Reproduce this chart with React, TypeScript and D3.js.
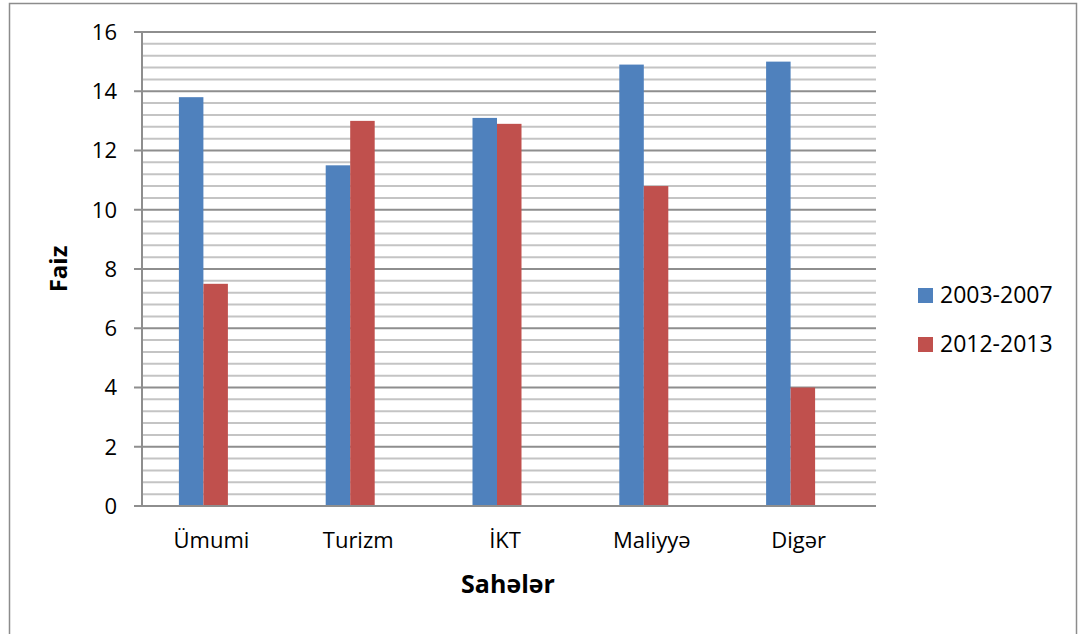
import { useEffect, useRef } from "react";
import * as d3 from "d3";

const categories = ["Ümumi", "Turizm", "İKT", "Maliyyə", "Digər"];
const seriesNames = ["2003-2007", "2012-2013"];
const values2003 = [13.8, 11.5, 13.1, 14.9, 15.0];
const values2012 = [7.5, 13.0, 12.9, 10.8, 4.0];
const colors = ["#4f81bd", "#c0504d"];
const yMajorTicks = [0, 2, 4, 6, 8, 10, 12, 14, 16];

const FONT = "'Open Sans', 'DejaVu Sans', sans-serif";

export default function App() {
  const svgRef = useRef<SVGSVGElement | null>(null);

  useEffect(() => {
    const width = 1083;
    const height = 634;
    const svg = d3.select(svgRef.current).attr("width", width).attr("height", height);
    svg.selectAll("*").remove();

    // outer frame
    svg
      .append("rect")
      .attr("x", 9.5)
      .attr("y", 3.5)
      .attr("width", 1067)
      .attr("height", 660)
      .attr("fill", "#fff")
      .attr("stroke", "#8c8c8c")
      .attr("stroke-width", 1.5);

    const plot = { left: 142, right: 876, top: 32, bottom: 506 };

    const y = d3.scaleLinear().domain([0, 16]).range([plot.bottom, plot.top]);

    // category band for labels; bars sit a little left of centre as in the original
    const x = d3
      .scaleBand<string>()
      .domain(categories)
      .range([plot.left, plot.right])
      .paddingInner(0)
      .paddingOuter(0);
    const barShift = -12;
    const groupWidth = 49;
    const xSub = d3.scaleBand<string>().domain(seriesNames).range([0, groupWidth]);

    // minor gridlines
    const minor = d3.range(0, 16.001, 0.4).filter((v) => Math.abs(v / 2 - Math.round(v / 2)) > 1e-6);
    svg
      .append("g")
      .selectAll("line")
      .data(minor)
      .enter()
      .append("line")
      .attr("x1", plot.left)
      .attr("x2", plot.right)
      .attr("y1", (d) => y(d))
      .attr("y2", (d) => y(d))
      .attr("stroke", "#c4c4c4")
      .attr("stroke-width", 2);

    // major gridlines + ticks
    svg
      .append("g")
      .selectAll("line")
      .data(yMajorTicks)
      .enter()
      .append("line")
      .attr("x1", plot.left - 8)
      .attr("x2", plot.right)
      .attr("y1", (d) => y(d))
      .attr("y2", (d) => y(d))
      .attr("stroke", "#8e8e8e")
      .attr("stroke-width", 2);

    // y axis line
    svg
      .append("line")
      .attr("x1", plot.left)
      .attr("x2", plot.left)
      .attr("y1", plot.top)
      .attr("y2", plot.bottom)
      .attr("stroke", "#8e8e8e")
      .attr("stroke-width", 2);

    // y tick labels
    svg
      .append("g")
      .selectAll("text")
      .data(yMajorTicks)
      .enter()
      .append("text")
      .attr("x", 117)
      .attr("y", (d) => y(d))
      .attr("dy", "0.36em")
      .attr("text-anchor", "end")
      .style("font-family", FONT)
      .style("font-size", "22px")
      .style("fill", "#000")
      .text((d) => d);

    // bars
    const rows = categories.map((c, i) => ({ cat: c, vals: [values2003[i], values2012[i]] }));
    const groups = svg
      .append("g")
      .selectAll("g")
      .data(rows)
      .enter()
      .append("g")
      .attr(
        "transform",
        (d) => `translate(${(x(d.cat) ?? 0) + x.bandwidth() / 2 + barShift - groupWidth / 2},0)`
      );
    groups
      .selectAll("rect")
      .data((d) => d.vals.map((v, j) => ({ v, j })))
      .enter()
      .append("rect")
      .attr("x", (d) => xSub(seriesNames[d.j]) ?? 0)
      .attr("width", xSub.bandwidth())
      .attr("y", (d) => y(d.v))
      .attr("height", (d) => y(0) - y(d.v))
      .attr("fill", (d) => colors[d.j]);

    // x axis baseline on top of bars
    svg
      .append("line")
      .attr("x1", plot.left - 8)
      .attr("x2", plot.right)
      .attr("y1", y(0))
      .attr("y2", y(0))
      .attr("stroke", "#8e8e8e")
      .attr("stroke-width", 2);

    // category labels
    svg
      .append("g")
      .selectAll("text")
      .data(categories)
      .enter()
      .append("text")
      .attr("x", (d) => (x(d) ?? 0) + x.bandwidth() / 2 - 4)
      .attr("y", 548)
      .attr("text-anchor", "middle")
      .style("font-family", FONT)
      .style("font-size", "22px")
      .style("fill", "#000")
      .text((d) => d);

    // axis titles
    svg
      .append("text")
      .attr("x", 508)
      .attr("y", 593)
      .attr("text-anchor", "middle")
      .style("font-family", FONT)
      .style("font-size", "25px")
      .style("font-weight", "bold")
      .text("Sahələr");

    svg
      .append("text")
      .attr("transform", "translate(67,269) rotate(-90)")
      .attr("text-anchor", "middle")
      .style("font-family", FONT)
      .style("font-size", "24px")
      .style("font-weight", "bold")
      .text("Faiz");

    // legend
    const legend = svg
      .append("g")
      .selectAll("g")
      .data(seriesNames)
      .enter()
      .append("g")
      .attr("transform", (_, i) => `translate(918,${288 + i * 49})`);
    legend
      .append("rect")
      .attr("width", 15)
      .attr("height", 15)
      .attr("fill", (_, i) => colors[i]);
    legend
      .append("text")
      .attr("x", 22)
      .attr("y", 15)
      .style("font-family", FONT)
      .style("font-size", "23px")
      .style("fill", "#000")
      .text((d) => d);
  }, []);

  return (
    <div style={{ position: "absolute", left: 0, top: 0 }}>
      <svg ref={svgRef} style={{ display: "block" }} />
    </div>
  );
}
